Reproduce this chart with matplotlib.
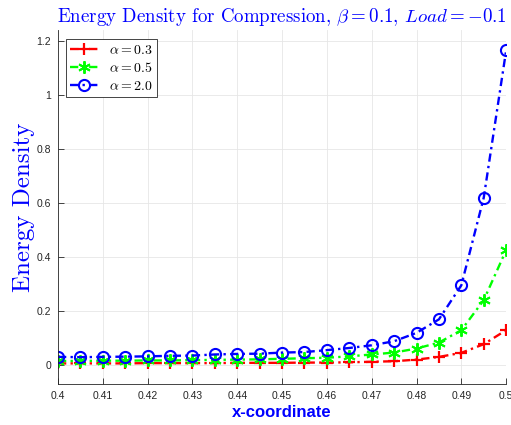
import matplotlib
matplotlib.use("Agg")
import matplotlib.pyplot as plt
import numpy as np

plt.rcParams['mathtext.fontset'] = 'cm'
plt.rcParams['axes.unicode_minus'] = False

x = [0.400, 0.405, 0.410, 0.415, 0.420, 0.425, 0.430, 0.435, 0.440, 0.445, 0.450,
     0.455, 0.460, 0.465, 0.470, 0.475, 0.480, 0.485, 0.490, 0.495, 0.500]
e_03 = [0.007, 0.007, 0.007, 0.007, 0.008, 0.008, 0.008, 0.008, 0.009, 0.009, 0.009,
        0.010, 0.010, 0.011, 0.013, 0.015, 0.021, 0.031, 0.046, 0.078, 0.130]
e_05 = [0.016, 0.016, 0.017, 0.017, 0.018, 0.018, 0.019, 0.020, 0.021, 0.022, 0.024,
        0.026, 0.028, 0.033, 0.040, 0.047, 0.062, 0.084, 0.130, 0.241, 0.426]
e_20 = [0.031, 0.030, 0.031, 0.032, 0.033, 0.035, 0.036, 0.040, 0.042, 0.043, 0.047,
        0.049, 0.056, 0.064, 0.074, 0.089, 0.120, 0.170, 0.296, 0.620, 1.165]
labels = [r'$\alpha = 0.3$', r'$\alpha = 0.5$', r'$\alpha = 2.0$']

fig = plt.figure(figsize=(5.11, 4.25), dpi=100)
ax = fig.add_axes([0.1135, 0.096, 0.877, 0.833])

dash = (3.5, 1.8, 1, 1.8)
ax.plot(x, e_03, color='r', dashes=dash, marker='+', markersize=9, mew=1.6, lw=1.7, label=labels[0])
ax.plot(x, e_05, color='#00ff00', dashes=dash, marker=(6, 2, 0), markersize=9, mew=1.4, lw=1.7, label=labels[1])
ax.plot(x, e_20, color='b', dashes=dash, marker='o', markersize=8, mew=1.5, mfc='none', lw=1.7, label=labels[2])

ax.set_xlim(0.4, 0.5)
ax.set_ylim(-0.07, 1.24)
ax.set_xticks(np.arange(0.4, 0.5001, 0.01))
ax.set_xticklabels(['0.4', '0.41', '0.42', '0.43', '0.44', '0.45', '0.46', '0.47', '0.48', '0.49', '0.5'])
ax.set_yticks([0, 0.2, 0.4, 0.6, 0.8, 1.0, 1.2])
ax.set_yticklabels(['0', '0.2', '0.4', '0.6', '0.8', '1', '1.2'])
ax.tick_params(direction='in', labelsize=7.5, colors='#262626', length=4, width=0.6, pad=5)
for lab in ax.get_xticklabels() + ax.get_yticklabels():
    lab.set_family('Liberation Sans')
ax.grid(True, color='#e6e6e6', lw=0.6)
ax.spines['top'].set_visible(False)
ax.spines['right'].set_visible(False)
for s in ['left', 'bottom']:
    ax.spines[s].set_color('#262626')
    ax.spines[s].set_linewidth(0.6)

ax.set_title(r'Energy Density for Compression, $\beta = 0.1$, $Load = -0.1$',
             color='b', fontsize=13.6, family='cmr10', pad=6)
ax.set_xlabel('x-coordinate', color='b', fontsize=12, fontweight='bold', family='Liberation Sans', labelpad=3)
ax.set_ylabel('Energy Density', color='b', fontsize=18, family='cmr10', labelpad=1)

leg = ax.legend(loc='upper left', fontsize=10, frameon=True, fancybox=False,
                edgecolor='#262626', framealpha=1, borderpad=0.3, handlelength=2.0,
                borderaxespad=0.6, labelspacing=0.3)
leg.get_frame().set_linewidth(0.6)

fig.savefig('out.png', dpi=100)
